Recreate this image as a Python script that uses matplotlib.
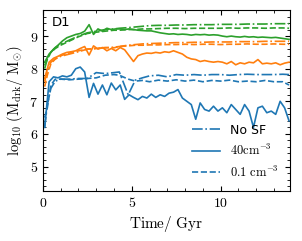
import numpy as np
import matplotlib
matplotlib.use("Agg")
import matplotlib.pyplot as plt
from matplotlib.ticker import MultipleLocator, FuncFormatter

plt.rcParams['mathtext.fontset'] = 'cm'

# time grids (Gyr)
t_fine = [0.1, 0.35, 0.6, 0.85, 1.1, 1.35, 1.6, 1.85, 2.1, 2.35, 2.6, 2.85, 3.1, 3.35,
          3.6, 3.85, 4.1, 4.35, 4.6, 4.85, 5.1, 5.35, 5.6, 5.85, 6.1, 6.35, 6.6, 6.85,
          7.1, 7.35, 7.6, 7.85, 8.1, 8.35, 8.6, 8.85, 9.1, 9.35, 9.6, 9.85, 10.1, 10.35,
          10.6, 10.85, 11.1, 11.35, 11.6, 11.85, 12.1, 12.35, 12.6, 12.85, 13.1, 13.35,
          13.6, 13.85]
t_coarse = [0.1, 0.25, 0.45, 0.7, 1.0, 1.5, 2.0, 2.5, 3.0, 3.5, 4.0, 4.3, 4.8, 5.2,
            5.6, 6.0, 6.5, 7.0, 7.5, 8.0, 8.5, 9.0, 9.5, 10.0, 10.5, 11.0, 11.5, 12.0,
            12.5, 13.0, 13.5, 13.85]

# blue halo
blue_nosf = [6.2, 6.9, 7.4, 7.62, 7.68, 7.68, 7.7, 7.7, 7.88, 7.85, 7.88, 7.9, 7.2, 7.65,
             7.72, 7.78, 7.8, 7.75, 7.82, 7.8, 7.82, 7.8, 7.82, 7.82, 7.8, 7.82, 7.83, 7.82,
             7.82, 7.82, 7.83, 7.82]
blue_40 = [6.2, 7.6, 7.75, 7.72, 7.78, 7.75, 7.8, 8.0, 8.05, 7.9, 7.12, 7.55, 7.22, 7.5,
           7.2, 7.56, 7.35, 7.5, 7.06, 7.2, 7.12, 7.05, 7.15, 7.1, 7.22, 7.12, 7.2, 7.15,
           7.25, 7.28, 7.36, 7.1, 7.0, 6.9, 6.45, 6.95, 6.75, 6.7, 6.85, 6.7, 6.8, 6.65,
           6.9, 6.75, 6.6, 6.9, 6.7, 6.2, 6.8, 6.85, 6.65, 6.7, 6.6, 7.0, 6.8, 6.4]
blue_01 = [6.5, 6.8, 7.5, 7.68, 7.68, 7.66, 7.68, 7.7, 7.72, 7.8, 7.82, 7.8, 7.68, 7.62,
           7.64, 7.6, 7.65, 7.62, 7.66, 7.62, 7.65, 7.6, 7.64, 7.62, 7.65, 7.6, 7.62, 7.6,
           7.64, 7.6, 7.6, 7.5]

# orange halo
orange_nosf = [7.6, 7.95, 8.2, 8.3, 8.38, 8.45, 8.52, 8.6, 8.62, 8.64, 8.66, 8.68, 8.72,
               8.74, 8.76, 8.77, 8.78, 8.79, 8.8, 8.8, 8.81, 8.81, 8.82, 8.82, 8.82, 8.83,
               8.83, 8.83, 8.84, 8.84, 8.84, 8.84]
orange_40 = [7.7, 8.2, 8.32, 8.38, 8.45, 8.5, 8.52, 8.55, 8.62, 8.68, 8.42, 8.7, 8.6, 8.65,
             8.55, 8.62, 8.55, 8.65, 8.58, 8.4, 8.22, 8.4, 8.45, 8.48, 8.47, 8.5, 8.48, 8.52,
             8.5, 8.55, 8.5, 8.45, 8.35, 8.3, 8.28, 8.22, 8.25, 8.22, 8.2, 8.22, 8.2, 8.15,
             8.22, 8.12, 8.18, 8.15, 8.2, 8.18, 8.28, 8.15, 8.17, 8.15, 8.18, 8.12, 8.17, 8.2]
orange_01 = [7.45, 7.8, 8.15, 8.3, 8.4, 8.48, 8.55, 8.6, 8.62, 8.65, 8.64, 8.68, 8.7,
             8.72, 8.72, 8.73, 8.73, 8.74, 8.74, 8.75, 8.74, 8.75, 8.75, 8.74, 8.75, 8.75,
             8.76, 8.75, 8.75, 8.76, 8.75, 8.75]

# green halo
green_nosf = [8.0, 8.3, 8.5, 8.65, 8.75, 8.88, 9.0, 9.1, 9.15, 9.2, 9.22, 9.24, 9.26, 9.28,
              9.3, 9.32, 9.33, 9.33, 9.34, 9.34, 9.35, 9.35, 9.35, 9.36, 9.36, 9.36, 9.37,
              9.37, 9.37, 9.38, 9.38, 9.38]
green_40 = [8.2, 8.45, 8.6, 8.72, 8.85, 8.95, 9.0, 9.05, 9.08, 9.15, 9.35, 9.05, 9.22, 9.15,
            9.24, 9.2, 9.22, 9.22, 9.2, 9.22, 9.2, 9.18, 9.17, 9.16, 9.16, 9.13, 9.1, 9.08,
            9.06, 9.07, 9.05, 9.06, 9.05, 9.03, 9.05, 9.04, 9.05, 9.03, 9.04, 9.03, 9.0,
            8.98, 9.0, 8.98, 8.97, 8.99, 8.97, 8.98, 8.96, 8.97, 8.96, 8.95, 8.96, 8.94,
            8.92, 8.9]
green_01 = [8.1, 8.3, 8.5, 8.62, 8.72, 8.85, 8.98, 9.08, 9.12, 9.15, 9.18, 9.18, 9.2, 9.2,
            9.22, 9.22, 9.23, 9.24, 9.24, 9.23, 9.24, 9.24, 9.24, 9.24, 9.25, 9.24, 9.25,
            9.25, 9.24, 9.25, 9.25, 9.24]

fig = plt.figure(figsize=(3.02, 2.41), dpi=100)
ax = fig.add_axes([0.142, 0.2075, 0.818, 0.751])

lw = 1.2
ax.plot(t_coarse, blue_nosf, color='C0', ls='-.', lw=lw, label='No SF')
ax.plot(t_fine, blue_40, color='C0', ls='-', lw=lw, label=r'$\mathrm{40cm^{-3}}$')
ax.plot(t_coarse, blue_01, color='C0', ls='--', lw=lw, label=r'$\mathrm{0.1\ cm^{-3}}$')
ax.plot(t_coarse, orange_nosf, color='C1', ls='-.', lw=lw)
ax.plot(t_fine, orange_40, color='C1', ls='-', lw=lw)
ax.plot(t_coarse, orange_01, color='C1', ls='--', lw=lw)
ax.plot(t_coarse, green_nosf, color='C2', ls='-.', lw=lw)
ax.plot(t_fine, green_40, color='C2', ls='-', lw=lw)
ax.plot(t_coarse, green_01, color='C2', ls='--', lw=lw)

ax.set_xlim(0, 13.9)
ax.set_ylim(4.25, 9.8)
ax.xaxis.set_major_locator(MultipleLocator(5))
ax.xaxis.set_minor_locator(MultipleLocator(1))
ax.yaxis.set_major_locator(MultipleLocator(1))
ax.yaxis.set_minor_locator(MultipleLocator(0.2))
fmt = FuncFormatter(lambda v, p: r'$%g$' % v)
ax.xaxis.set_major_formatter(fmt)
ax.yaxis.set_major_formatter(fmt)
ax.tick_params(which='both', direction='in', top=True, right=True, labelsize=10)
ax.tick_params(which='major', length=3.5)
ax.tick_params(which='minor', length=2)

ax.set_xlabel(r'$\mathrm{Time/\ Gyr}$', fontsize=11, labelpad=3)
ax.set_ylabel(r'$\log_{10}\,(\mathrm{M_{drk}/\ M_{\odot}})$', fontsize=10.5, labelpad=3)
ax.text(0.035, 0.965, 'D1', transform=ax.transAxes, va='top', ha='left', fontsize=9.5)
ax.legend(loc='lower right', frameon=False, fontsize=9, handlelength=2.2)

fig.savefig('out.png', dpi=100)
